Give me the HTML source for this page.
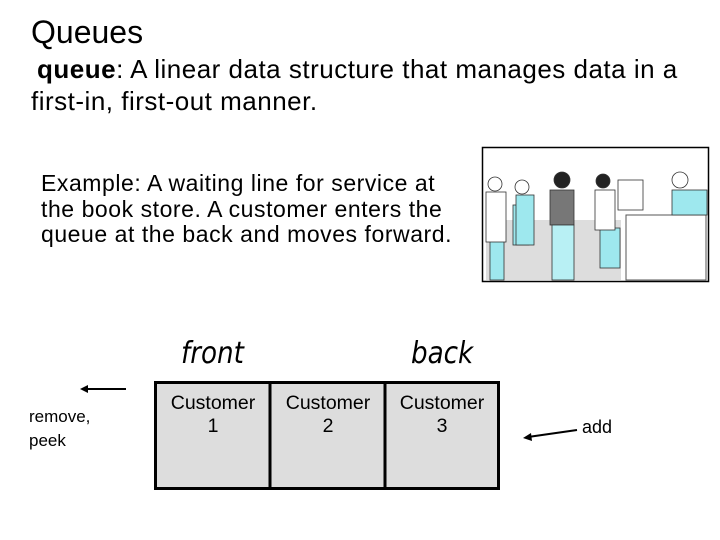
<!DOCTYPE html>
<html><head><meta charset="utf-8"><style>
body{margin:0;width:720px;height:540px;background:#fff;position:relative;overflow:hidden;font-family:"Liberation Sans",sans-serif;color:#000}
.t{position:absolute;white-space:nowrap;line-height:1}
</style></head><body>
<div class="t" style="left:31px;top:16px;font-size:32px;font-weight:300">Queues</div>
<div class="t" style="left:37px;top:56px;font-size:26px;letter-spacing:0.5px"><b>queue</b>: A linear data structure that manages data in a</div>
<div class="t" style="left:31px;top:88px;font-size:26px;letter-spacing:0.5px">first-in, first-out manner.</div>
<div class="t" style="left:41px;top:171px;font-size:23px;line-height:25.5px;letter-spacing:0.55px">Example: A waiting line for service at<br>the book store. A customer enters the<br>queue at the back and moves forward.</div>

<svg style="position:absolute;left:0;top:0" width="720" height="540">
<rect x="482.5" y="147.5" width="226" height="134" fill="#fff" stroke="#000" stroke-width="1.5"/>
<rect x="486" y="220" width="135" height="60" fill="#ddd"/>
<rect x="626" y="215" width="80" height="65" fill="#fff" stroke="#555"/>
<g fill="#9ee8ee" stroke="#333" stroke-width="0.8">
<rect x="490" y="240" width="14" height="40"/>
<rect x="513" y="205" width="16" height="40"/>
<rect x="600" y="228" width="20" height="40"/>
<rect x="672" y="190" width="35" height="25"/>
</g>
<g fill="#fff" stroke="#333" stroke-width="0.8">
<circle cx="495" cy="184" r="7"/><rect x="486" y="192" width="20" height="50"/>
<circle cx="522" cy="187" r="7"/><rect x="516" y="195" width="18" height="50" fill="#9ee8ee"/>
<circle cx="562" cy="180" r="8" fill="#222"/><rect x="550" y="190" width="24" height="35" fill="#777"/><rect x="552" y="225" width="22" height="55" fill="#b8f0f4"/>
<circle cx="603" cy="181" r="7" fill="#222"/><rect x="595" y="190" width="20" height="40"/>
<rect x="618" y="180" width="25" height="30"/>
<circle cx="680" cy="180" r="8"/>
</g>
<g stroke="#000" stroke-width="3" fill="#ddd">
<rect x="155.5" y="382.5" width="343" height="106"/>
<line x1="270" y1="382" x2="270" y2="489"/>
<line x1="385" y1="382" x2="385" y2="489"/>
</g>
<line x1="84" y1="389" x2="126" y2="389" stroke="#000" stroke-width="2"/>
<polygon points="80,389 88,385 88,393" fill="#000"/>
<line x1="528" y1="437" x2="577" y2="430" stroke="#000" stroke-width="2"/>
<polygon points="523,438 531,433 532,441" fill="#000"/>
</svg>

<div class="t" style="left:181px;top:339px;font-size:30px;font-style:italic;font-family:'DejaVu Sans Condensed','Liberation Sans',sans-serif;transform:scaleX(0.97);transform-origin:left">front</div>
<div class="t" style="left:411px;top:339px;font-size:30px;font-style:italic;font-family:'DejaVu Sans Condensed','Liberation Sans',sans-serif;transform:scaleX(0.97);transform-origin:left">back</div>
<div class="t" style="left:156px;top:392px;width:114px;text-align:center;font-size:19.5px;line-height:23px">Customer<br>1</div>
<div class="t" style="left:271px;top:392px;width:114px;text-align:center;font-size:19.5px;line-height:23px">Customer<br>2</div>
<div class="t" style="left:386px;top:392px;width:112px;text-align:center;font-size:19.5px;line-height:23px">Customer<br>3</div>
<div class="t" style="left:29px;top:405px;font-size:17px;line-height:24px">remove,<br>peek</div>
<div class="t" style="left:582px;top:418px;font-size:18px">add</div>
</body></html>
